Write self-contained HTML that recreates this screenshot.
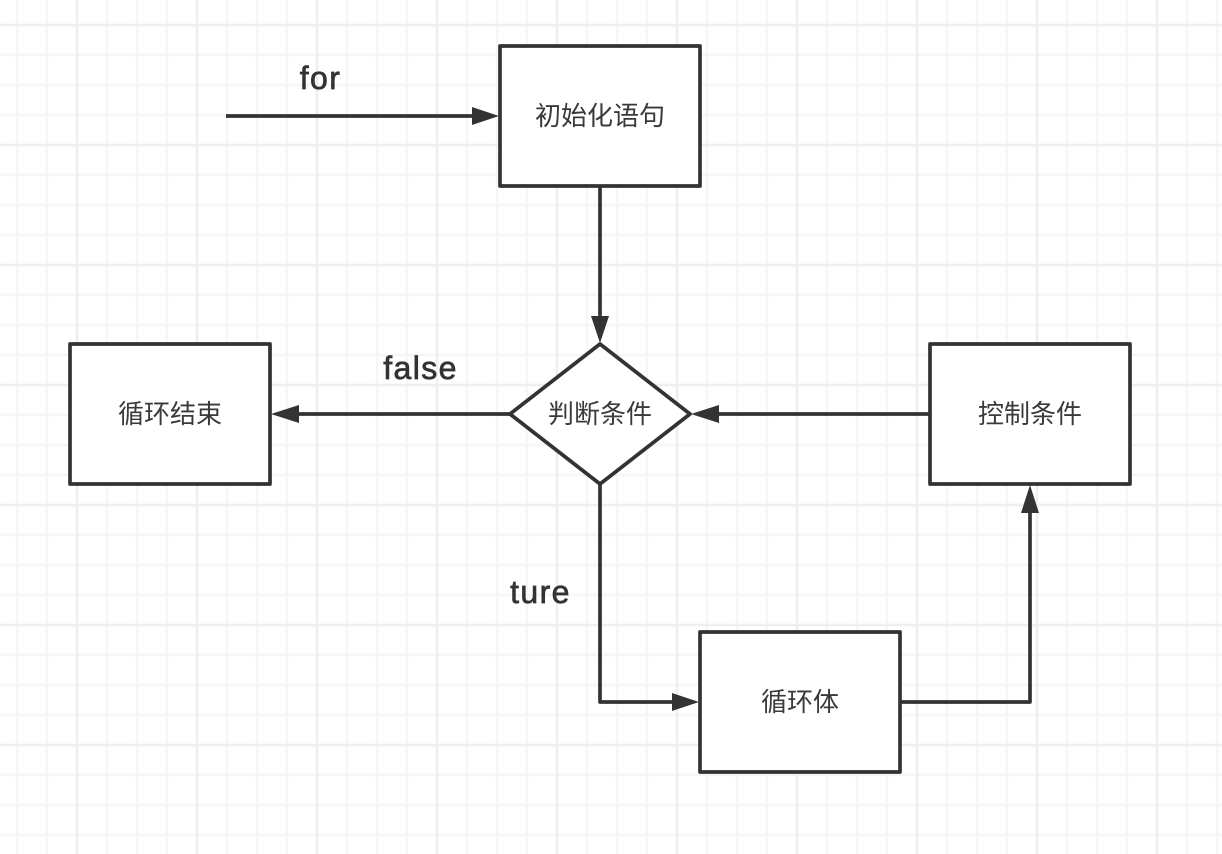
<!DOCTYPE html>
<html lang="zh">
<head>
<meta charset="utf-8">
<style>
html,body{margin:0;padding:0;background:#fff;width:1222px;height:854px;overflow:hidden}
svg{display:block}
.c{font-family:"Liberation Sans","Noto Sans CJK SC",sans-serif;font-size:26px;fill:#3a3a3a;text-anchor:middle}
.l{font-family:"Liberation Sans",sans-serif;font-size:32px;fill:#333;stroke:#333;stroke-width:.7px;text-anchor:middle;letter-spacing:1.4px}
.s{fill:#fff;stroke:#333;stroke-width:3.7;stroke-linejoin:round}
.e{fill:none;stroke:#333;stroke-width:3.7;stroke-linejoin:round}
.a{fill:#333}
</style>
</head>
<body>
<svg width="1222" height="854" viewBox="0 0 1222 854" xmlns="http://www.w3.org/2000/svg">
<defs>
<pattern id="minor" width="30" height="30" patternUnits="userSpaceOnUse" x="2" y="10">
<path d="M15 0V30M0 15H30" stroke="#f6f6f6" stroke-width="2.4" fill="none"/>
</pattern>
<pattern id="major" width="120" height="120" patternUnits="userSpaceOnUse" x="17" y="-35">
<path d="M60 0V120M0 60H120" stroke="#efefef" stroke-width="2.4" fill="none"/>
</pattern>
</defs>
<rect width="1222" height="854" fill="#fff"/>
<rect width="1222" height="854" fill="url(#minor)"/>
<rect width="1222" height="854" fill="url(#major)"/>

<path class="e" d="M226 116H474"/>
<path class="a" d="M499 116L472 107V125Z"/>

<path class="e" d="M600 186V318"/>
<path class="a" d="M600 343L591 316H609Z"/>

<path class="e" d="M510 414H297"/>
<path class="a" d="M271 414L299 405V423Z"/>

<path class="e" d="M930 414H717"/>
<path class="a" d="M691 414L719 405V423Z"/>

<path class="e" d="M600 484V702H674"/>
<path class="a" d="M699 702L672 693V711Z"/>

<path class="e" d="M900 702H1030V512"/>
<path class="a" d="M1030 485L1021 513H1039Z"/>

<rect class="s" x="500" y="46" width="200" height="140"/>
<rect class="s" x="70" y="344" width="200" height="140"/>
<rect class="s" x="930" y="344" width="200" height="140"/>
<rect class="s" x="700" y="632" width="200" height="140"/>
<path class="s" d="M600 344L690 414L600 484L510 414Z"/>

<text class="c" x="600" y="125">初始化语句</text>
<text class="c" x="170" y="423">循环结束</text>
<text class="c" x="600" y="423">判断条件</text>
<text class="c" x="1030" y="423">控制条件</text>
<text class="c" x="800" y="711">循环体</text>

<text class="l" x="320.5" y="89">for</text>
<text class="l" x="420.5" y="379">false</text>
<text class="l" x="540.5" y="603">ture</text>
</svg>
</body>
</html>
